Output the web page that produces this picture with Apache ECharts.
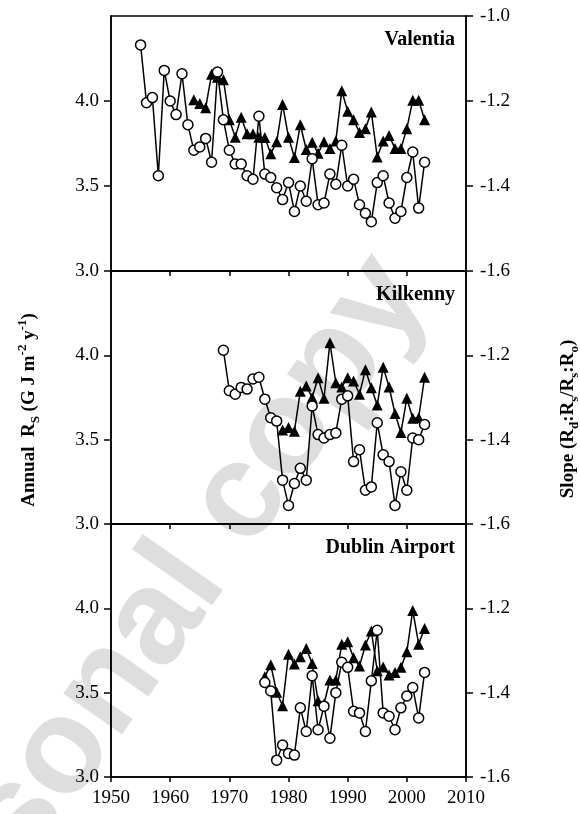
<!DOCTYPE html>
<html><head><meta charset="utf-8">
<script src="https://cdn.jsdelivr.net/npm/echarts@6/dist/echarts.min.js"></script>
<style>html,body{margin:0;padding:0;background:#fff}#c{width:580px;height:814px}</style>
</head><body><div id="c"></div>
<script>
// ---------- data ----------
const stations = ["Valentia", "Kilkenny", "Dublin Airport"];
const xTicks = [1950, 1960, 1970, 1980, 1990, 2000, 2010];
const rsTicks = [3.0, 3.5, 4.0];
const slopeTicks = [-1.6, -1.4, -1.2, -1.0];

// Valentia
const valRsStart = 1955;
const valRs = [4.33, 3.99, 4.02, 3.56, 4.18, 4.00, 3.92, 4.16, 3.86, 3.71, 3.73, 3.78, 3.64, 4.17, 3.89, 3.71, 3.63, 3.63, 3.56, 3.54, 3.91, 3.57, 3.55, 3.49, 3.42, 3.52, 3.35, 3.50, 3.41, 3.66, 3.39, 3.40, 3.57, 3.51, 3.74, 3.50, 3.54, 3.39, 3.34, 3.29, 3.52, 3.56, 3.40, 3.31, 3.35, 3.55, 3.70, 3.37, 3.64];
const valSlopeStart = 1964;
const valSlope = [-1.197, -1.206, -1.216, -1.137, -1.144, -1.150, -1.244, -1.285, -1.238, -1.277, -1.277, -1.285, -1.286, -1.324, -1.296, -1.208, -1.285, -1.333, -1.256, -1.314, -1.297, -1.323, -1.296, -1.312, -1.294, -1.176, -1.224, -1.244, -1.274, -1.265, -1.226, -1.332, -1.294, -1.281, -1.312, -1.312, -1.265, -1.198, -1.198, -1.244];

// Kilkenny
const kilRsStart = 1969;
const kilRs = [4.03, 3.79, 3.77, 3.81, 3.80, 3.86, 3.87, 3.74, 3.63, 3.61, 3.26, 3.11, 3.24, 3.33, 3.26, 3.70, 3.53, 3.51, 3.53, 3.54, 3.74, 3.76, 3.37, 3.44, 3.20, 3.22, 3.60, 3.41, 3.37, 3.11, 3.31, 3.20, 3.51, 3.50, 3.59];
const kilSlopeStart = 1979;
const kilSlope = [-1.377, -1.371, -1.380, -1.285, -1.273, -1.300, -1.253, -1.302, -1.170, -1.265, -1.275, -1.253, -1.261, -1.292, -1.234, -1.277, -1.318, -1.228, -1.275, -1.338, -1.383, -1.302, -1.349, -1.348, -1.252];

// Dublin Airport
const dubRsStart = 1976;
const dubRs = [3.56, 3.51, 3.10, 3.19, 3.14, 3.13, 3.41, 3.27, 3.60, 3.28, 3.42, 3.23, 3.50, 3.68, 3.65, 3.39, 3.38, 3.27, 3.57, 3.87, 3.38, 3.36, 3.28, 3.41, 3.48, 3.53, 3.35, 3.62];
const dubSlopeStart = 1976;
const dubSlope = [-1.362, -1.334, -1.399, -1.431, -1.309, -1.332, -1.315, -1.295, -1.331, -1.419, -1.427, -1.370, -1.370, -1.285, -1.279, -1.317, -1.337, -1.287, -1.254, -1.348, -1.339, -1.358, -1.352, -1.340, -1.303, -1.205, -1.285, -1.248];

// ---------- chart ----------
const pairs = (start, vals) => vals.map((v, i) => [start + i, v]);
const rsSets = [pairs(valRsStart, valRs), pairs(kilRsStart, kilRs), pairs(dubRsStart, dubRs)];
const slopeSets = [pairs(valSlopeStart, valSlope), pairs(kilSlopeStart, kilSlope), pairs(dubSlopeStart, dubSlope)];

const FONT = "Liberation Serif";
const LEFT = 111, WIDTH = 355;
const tops = [16, 271, 524];
const heights = [255, 253, 253];

const grids = [], xAxes = [], yAxes = [], series = [], titles = [];
for (let i = 0; i < 3; i++) {
  grids.push({left: LEFT, width: WIDTH, top: tops[i], height: heights[i], show: true,
    borderColor: '#000', borderWidth: 1.5, backgroundColor: 'transparent'});
  xAxes.push({type: 'value', gridIndex: i, min: xTicks[0], max: xTicks[xTicks.length - 1], interval: 10,
    splitLine: {show: false},
    axisLine: {show: true, onZero: false, lineStyle: {color: '#000', width: 1.5}},
    axisTick: {show: true, inside: false, length: 5, lineStyle: {color: '#000', width: 1.5}},
    axisLabel: {show: i === 2, margin: 12, color: '#000', fontFamily: FONT, fontSize: 19,
      formatter: v => String(v)}});
  yAxes.push({type: 'value', gridIndex: i, position: 'left', min: 3.0, max: 4.5, interval: 0.5,
    splitLine: {show: false},
    axisLine: {show: true, onZero: false, lineStyle: {color: '#000', width: 1.5}},
    axisTick: {show: true, length: 7, customValues: rsTicks, lineStyle: {color: '#000', width: 1.5}},
    axisLabel: {margin: 12, color: '#000', fontFamily: FONT, fontSize: 19, customValues: rsTicks,
      formatter: v => v.toFixed(1)}});
  yAxes.push({type: 'value', gridIndex: i, position: 'right', min: -1.6, max: -1.0, interval: 0.2,
    splitLine: {show: false},
    axisLine: {show: true, onZero: false, lineStyle: {color: '#000', width: 1.5}},
    axisTick: {show: true, length: 7, lineStyle: {color: '#000', width: 1.5}},
    axisLabel: {margin: 14, color: '#000', fontFamily: FONT, fontSize: 19,
      formatter: v => (i > 0 && v > -1.05) ? '' : v.toFixed(1)}});
  series.push({type: 'line', xAxisIndex: i, yAxisIndex: 2 * i + 1, data: slopeSets[i],
    symbol: 'triangle', symbolSize: 11, showAllSymbol: true,
    itemStyle: {color: '#000'}, lineStyle: {color: '#000', width: 1.5}, z: 2});
  series.push({type: 'line', xAxisIndex: i, yAxisIndex: 2 * i, data: rsSets[i],
    symbol: 'circle', symbolSize: 10, showAllSymbol: true,
    itemStyle: {color: '#fff', borderColor: '#000', borderWidth: 1.5},
    lineStyle: {color: '#000', width: 1.5}, z: 3});
  titles.push({text: stations[i], right: 580 - 460, top: tops[i] + 9,
    textStyle: {fontFamily: FONT, fontWeight: 'bold', fontSize: 20, color: '#000'}});
}

const titleRich = {
  m: {fontFamily: FONT, fontWeight: 'bold', fontSize: 19, color: '#000', lineHeight: 26, verticalAlign: 'middle'},
  sub: {fontFamily: FONT, fontWeight: 'bold', fontSize: 13, color: '#000', verticalAlign: 'bottom'},
  sup: {fontFamily: FONT, fontWeight: 'bold', fontSize: 13, color: '#000', verticalAlign: 'top'}
};

const chart = echarts.init(document.getElementById('c'), null, {renderer: 'canvas'});
chart.setOption({
  animation: false,
  backgroundColor: '#fff',
  title: titles,
  grid: grids,
  xAxis: xAxes,
  yAxis: yAxes,
  series: series,
  graphic: [
    {type: 'text', z: -10, x: 400, y: 272, rotation: 55 * Math.PI / 180,
      style: {text: 'Personal copy', fontFamily: 'Liberation Sans', fontWeight: 'bold', fontSize: 135,
        fill: '#dedede', align: 'right', verticalAlign: 'middle'}},
    {type: 'text', x: 29, y: 410, rotation: Math.PI / 2,
      style: {text: '{m|Annual  R}{sub|S}{m| (G J m}{sup|-2}{m| y}{sup|-1}{m|)}', rich: titleRich,
        align: 'center', verticalAlign: 'middle'}},
    {type: 'text', x: 568, y: 419, rotation: Math.PI / 2,
      style: {text: '{m|Slope (R}{sub|d}{m|:R}{sub|s}{m|/R}{sub|s}{m|:R}{sub|o}{m|)}', rich: titleRich,
        align: 'center', verticalAlign: 'middle'}}
  ]
});
</script></body></html>
